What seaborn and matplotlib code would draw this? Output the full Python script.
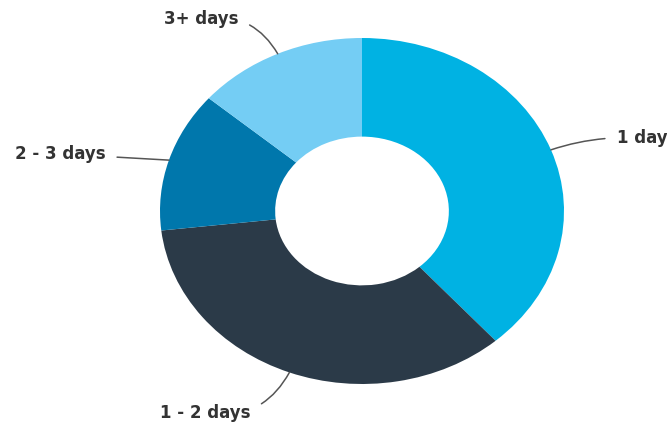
import numpy as np
import matplotlib
matplotlib.use("Agg")
import matplotlib.pyplot as plt
import seaborn as sns

# data (share of responses)
labels = ["1 day", "1 - 2 days", "2 - 3 days", "3+ days"]
shares = [38.5, 34.7, 13.1, 13.7]
colors = ["#00b2e3", "#2b3a48", "#0077ac", "#74cdf4"]

# where each label sits (data coords) and how its leader line bends
label_pos = [(1.26, 0.42), (-0.55, -1.17), (-1.27, 0.33), (-0.61, 1.11)]
label_ha = ["left", "right", "right", "right"]
label_rad = [0.1, 0.35, 0.0, -0.35]

sns.set_style("white")
plt.rcParams["font.family"] = ["DejaVu Sans"]

fig = plt.figure(figsize=(6.67, 4.29), dpi=100)
ax = fig.add_axes([0, 0, 1, 1])

wedges, _ = ax.pie(
    shares,
    colors=colors,
    startangle=90,
    counterclock=False,
    radius=1.0,
    wedgeprops=dict(width=0.57, edgecolor="none"),
)

for w, lab, pos, ha, rad in zip(wedges, labels, label_pos, label_ha, label_rad):
    ang = np.deg2rad((w.theta1 + w.theta2) / 2)
    anchor = (np.cos(ang), np.sin(ang))
    ax.annotate(
        lab,
        xy=anchor,
        xytext=pos,
        ha=ha,
        va="center",
        fontsize=12,
        fontweight="bold",
        color="#333333",
        arrowprops=dict(
            arrowstyle="-",
            color="#555555",
            lw=1.1,
            shrinkA=6,
            shrinkB=0,
            connectionstyle=f"arc3,rad={rad}",
        ),
    )

# stretch the pie into the same ellipse as the reference
ax.set_aspect("auto")
ax.set_xlim(-362 / 202, (667 - 362) / 202)
ax.set_ylim(-(429 - 211) / 173, 211 / 173)
ax.axis("off")

fig.savefig("out.png", dpi=100)
